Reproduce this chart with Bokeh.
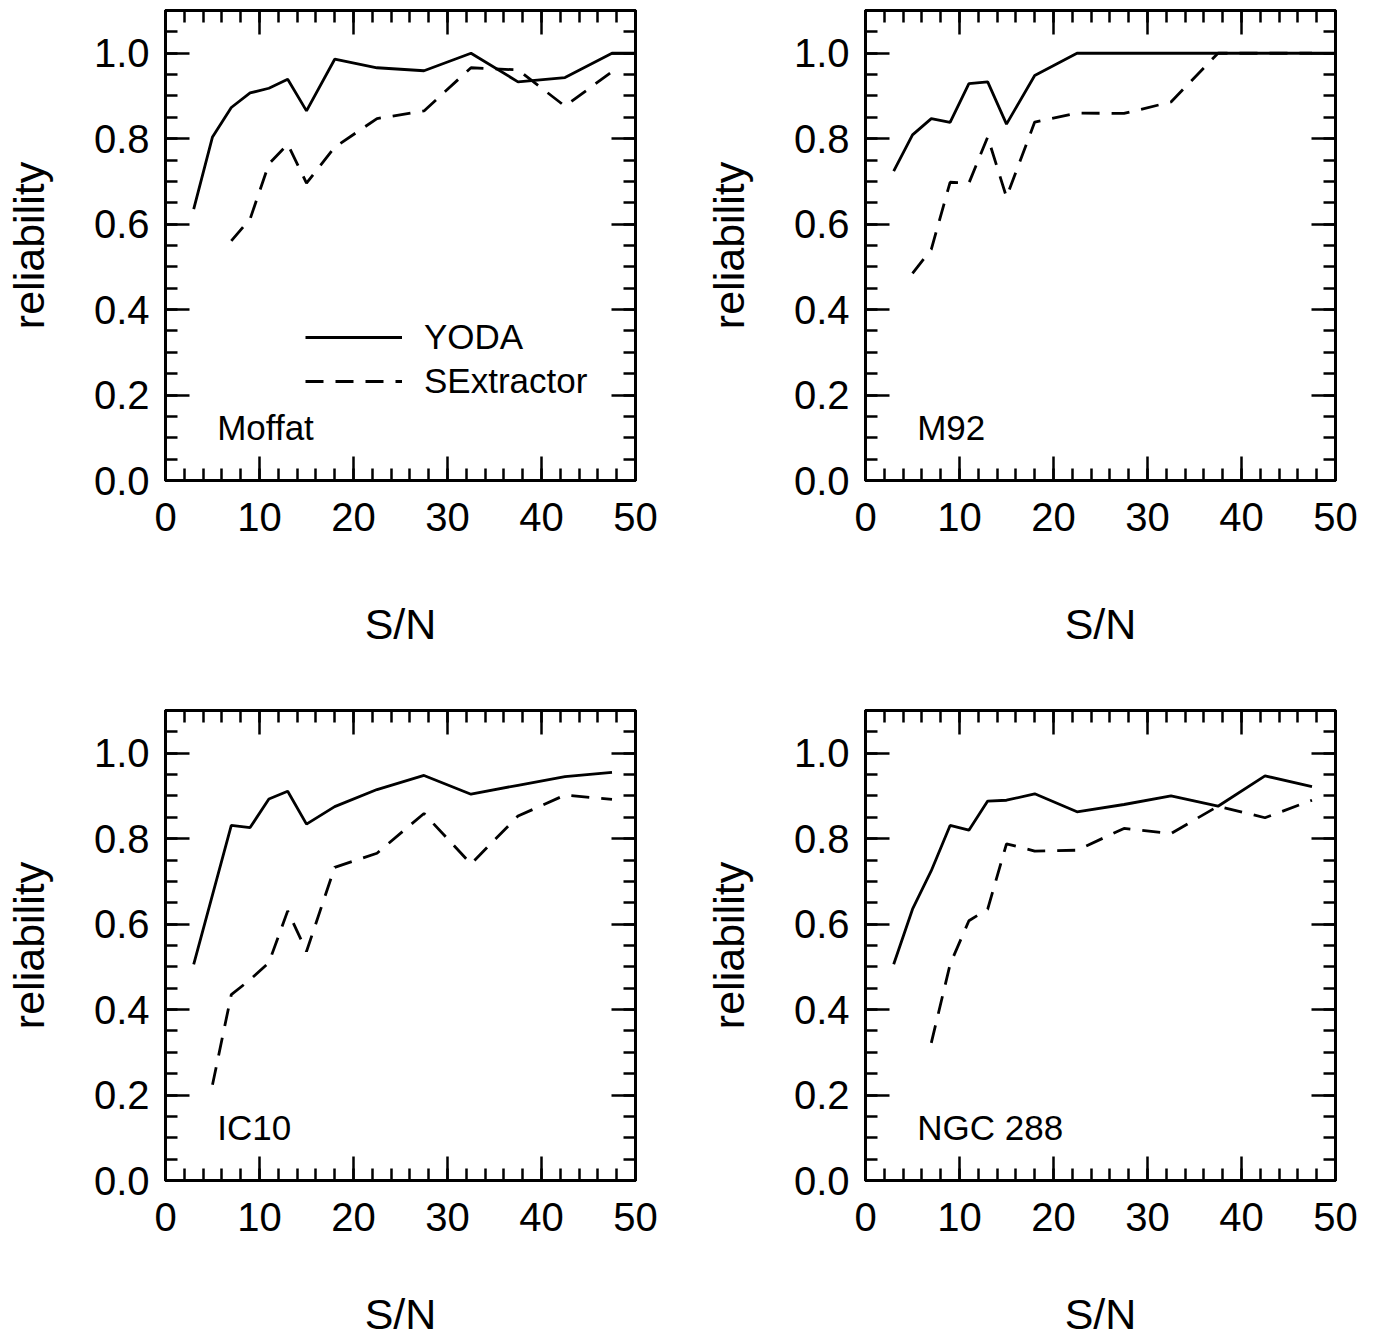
from bokeh.plotting import figure
from bokeh.models import (LinearAxis, FixedTicker, PrintfTickFormatter, Range1d,
                          Legend, LegendItem)
from bokeh.layouts import column, row
from bokeh.core.properties import value
from bokeh.embed import file_html
from bokeh.resources import INLINE

FONT = "Liberation Sans"

panel_names = ["Moffat", "M92", "IC10", "NGC 288"]

# Moffat
moffat_yoda_x = [3, 5, 7, 9, 11, 13, 15, 18, 22.5, 27.5, 32.5, 37.5, 42.5, 47.5, 52.5]
moffat_yoda_y = [0.635, 0.804, 0.873, 0.907, 0.918, 0.939, 0.865, 0.986, 0.966, 0.959, 1.0, 0.933, 0.943, 1.0, 1.0]
moffat_sex_x = [7, 9, 11, 13, 15, 18, 22.5, 27.5, 32.5, 37.5, 42.5, 47.5]
moffat_sex_y = [0.561, 0.612, 0.741, 0.787, 0.696, 0.780, 0.847, 0.865, 0.966, 0.961, 0.876, 0.957]

# M92
m92_yoda_x = [3, 5, 7, 9, 11, 13, 15, 18, 22.5, 27.5, 32.5, 37.5, 42.5, 47.5, 52.5]
m92_yoda_y = [0.724, 0.809, 0.847, 0.838, 0.929, 0.933, 0.834, 0.948, 1.0, 1.0, 1.0, 1.0, 1.0, 1.0, 1.0]
m92_sex_x = [5, 7, 9, 11, 13, 15, 18, 22.5, 27.5, 32.5, 37.5, 42.5, 47.5]
m92_sex_y = [0.485, 0.541, 0.698, 0.696, 0.804, 0.663, 0.839, 0.860, 0.859, 0.886, 1.0, 1.0, 1.0]

# IC10
ic10_yoda_x = [3, 7, 9, 11, 13, 15, 18, 22.5, 27.5, 32.5, 37.5, 42.5, 47.5]
ic10_yoda_y = [0.506, 0.831, 0.826, 0.893, 0.911, 0.834, 0.875, 0.915, 0.948, 0.904, 0.925, 0.945, 0.955]
ic10_sex_x = [5, 7, 9, 11, 13, 15, 18, 22.5, 27.5, 32.5, 37.5, 42.5, 47.5]
ic10_sex_y = [0.224, 0.435, 0.470, 0.510, 0.631, 0.536, 0.733, 0.766, 0.859, 0.741, 0.853, 0.902, 0.892]

# NGC 288
ngc_yoda_x = [3, 5, 7, 9, 11, 13, 15, 18, 22.5, 27.5, 32.5, 37.5, 42.5, 47.5]
ngc_yoda_y = [0.506, 0.635, 0.725, 0.831, 0.820, 0.888, 0.890, 0.905, 0.863, 0.880, 0.900, 0.876, 0.947, 0.922]
ngc_sex_x = [7, 9, 11, 13, 15, 18, 22.5, 27.5, 32.5, 37.5, 42.5, 47.5]
ngc_sex_y = [0.322, 0.506, 0.608, 0.635, 0.788, 0.771, 0.773, 0.824, 0.812, 0.876, 0.849, 0.890]

x_major = [0, 10, 20, 30, 40, 50]
x_minor = list(range(0, 51, 2))
y_major = [0.0, 0.2, 0.4, 0.6, 0.8, 1.0]
y_minor = [round(0.05 * i, 2) for i in range(0, 23)]

series_labels = ["YODA", "SExtractor"]
x_label = "S/N"
y_label = "reliability"

LW = 2.8
DASH = "18 12"


def style_axis(ax, show_labels):
    ax.axis_line_width = 3
    ax.axis_line_color = "black"
    ax.major_tick_in = 24
    ax.major_tick_out = 0
    ax.minor_tick_in = 12
    ax.minor_tick_out = 0
    ax.major_tick_line_width = 2.5
    ax.minor_tick_line_width = 2.5
    ax.major_tick_line_color = "black"
    ax.minor_tick_line_color = "black"
    ax.major_label_text_font = FONT
    ax.major_label_text_color = "black"
    ax.axis_label_text_font = FONT
    ax.axis_label_text_font_style = "normal"
    ax.axis_label_text_color = "black"
    if not show_labels:
        ax.major_label_text_font_size = "1px"
        ax.major_label_text_color = None
        ax.major_label_standoff = 0


def make_panel(name, yx, yy, sx, sy, width, height, bl, br, bt, bb, xlab_standoff, legend=False):
    p = figure(width=width, height=height, output_backend="svg", toolbar_location=None,
               x_range=Range1d(0, 50), y_range=Range1d(0, 1.1),
               min_border_left=bl, min_border_right=br, min_border_top=bt, min_border_bottom=bb,
               x_axis_location=None, y_axis_location=None)
    p.grid.visible = False
    p.outline_line_color = "black"
    p.outline_line_width = 3
    p.background_fill_color = "white"
    p.border_fill_color = "white"

    xt = FixedTicker(ticks=x_major, minor_ticks=x_minor)
    yt = FixedTicker(ticks=y_major, minor_ticks=y_minor)

    xb = LinearAxis(ticker=xt, formatter=PrintfTickFormatter(format="%d"), axis_label=x_label)
    style_axis(xb, True)
    xb.major_label_text_font_size = "40px"
    xb.major_label_standoff = 22
    xb.axis_label_text_font_size = "43px"
    xb.axis_label_standoff = xlab_standoff
    p.add_layout(xb, "below")

    yl = LinearAxis(ticker=yt, formatter=PrintfTickFormatter(format="%.1f"), axis_label=y_label)
    style_axis(yl, True)
    yl.major_label_text_font_size = "40px"
    yl.major_label_standoff = 16
    yl.axis_label_text_font_size = "43px"
    yl.axis_label_standoff = 38
    p.add_layout(yl, "left")

    xa = LinearAxis(ticker=FixedTicker(ticks=x_major, minor_ticks=x_minor))
    style_axis(xa, False)
    p.add_layout(xa, "above")
    yr = LinearAxis(ticker=FixedTicker(ticks=y_major, minor_ticks=y_minor))
    style_axis(yr, False)
    p.add_layout(yr, "right")

    r1 = p.line(yx, yy, line_color="black", line_width=LW)
    r2 = p.line(sx, sy, line_color="black", line_width=LW, line_dash=DASH)

    p.text(x=[5.5], y=[0.123], text=[name], text_font=value(FONT), text_font_size="35px",
           text_color="black", text_baseline="alphabetic", text_align="left")

    if legend:
        lg = Legend(items=[LegendItem(label=series_labels[0], renderers=[r1]),
                           LegendItem(label=series_labels[1], renderers=[r2])],
                    location=(140, 79))
        lg.border_line_color = None
        lg.background_fill_alpha = 0
        lg.padding = 0
        lg.margin = 0
        lg.spacing = 4
        lg.glyph_width = 97
        lg.glyph_height = 40
        lg.label_height = 40
        lg.label_standoff = 22
        lg.label_text_font = FONT
        lg.label_text_font_size = "35px"
        lg.label_text_color = "black"
        p.add_layout(lg, "center")
    return p


p1 = make_panel(panel_names[0], moffat_yoda_x, moffat_yoda_y, moffat_sex_x, moffat_sex_y,
                700, 700, 165, 65, 10, 220, 66, legend=True)
p2 = make_panel(panel_names[1], m92_yoda_x, m92_yoda_y, m92_sex_x, m92_sex_y,
                666, 700, 165, 31, 10, 220, 66)
p3 = make_panel(panel_names[2], ic10_yoda_x, ic10_yoda_y, ic10_sex_x, ic10_sex_y,
                700, 640, 165, 65, 10, 160, 56)
p4 = make_panel(panel_names[3], ngc_yoda_x, ngc_yoda_y, ngc_sex_x, ngc_sex_y,
                666, 640, 165, 31, 10, 160, 56)

layout = column(row(p1, p2), row(p3, p4))
open("out.html", "w").write(file_html(layout, INLINE))
